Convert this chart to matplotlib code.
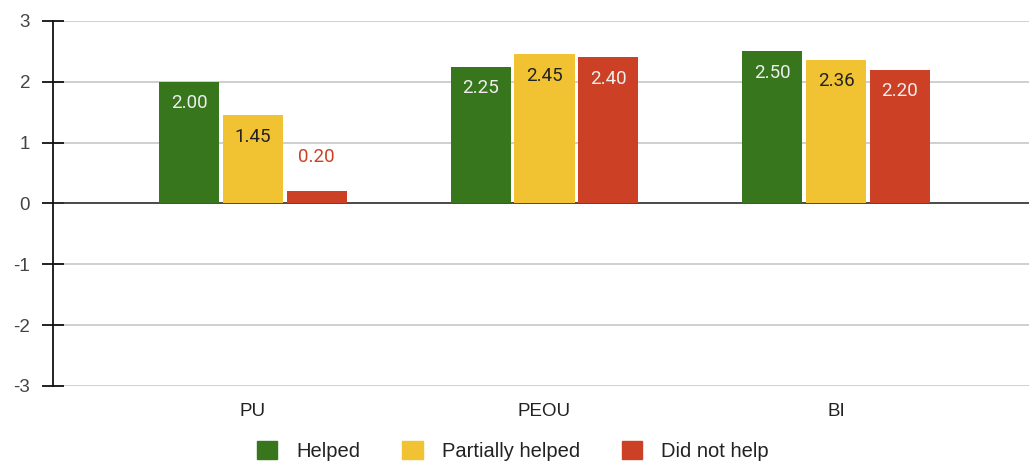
import matplotlib
matplotlib.use("Agg")
import matplotlib.pyplot as plt
import numpy as np

categories = ["PU", "PEOU", "BI"]
series_names = ["Helped", "Partially helped", "Did not help"]
helped = [2.00, 2.25, 2.50]
partially_helped = [1.45, 2.45, 2.36]
did_not_help = [0.20, 2.40, 2.20]
y_ticks = [-3, -2, -1, 0, 1, 2, 3]

colors = ["#38761d", "#f1c232", "#cc4125"]
label_colors = ["#eeeeee", "#222222", "#eeeeee"]

plt.rcParams["font.family"] = ["Liberation Sans", "DejaVu Sans"]

fig = plt.figure(figsize=(10.29, 4.65), dpi=100)
ax = fig.add_axes([53 / 1029, (465 - 386) / 465, 976 / 1029, 365 / 465])

x = np.arange(len(categories))
width = 0.206
step = 0.218
values = [helped, partially_helped, did_not_help]

for i, (vals, col, lcol) in enumerate(zip(values, colors, label_colors)):
    pos = x + (i - 1) * step
    ax.bar(pos, vals, width=width, color=col, zorder=3)
    for xb, v in zip(pos, vals):
        txt = f"{v:.2f}"
        if v >= 0.5:
            ax.text(xb, v - 0.35, txt, ha="center", va="center",
                    color=lcol, fontsize=13.5, family="Roboto", zorder=4)
        else:
            ax.text(xb, v + 0.57, txt, ha="center", va="center",
                    color=col, fontsize=13.5, family="Roboto", zorder=4)

ax.set_xlim(-0.686, 2.662)
ax.set_ylim(-3, 3)
ax.set_yticks(y_ticks)
ax.set_yticklabels([str(t) for t in y_ticks])
ax.set_xticks(x)
ax.set_xticklabels(categories)

ax.grid(axis="y", color="#cccccc", linewidth=1.3, zorder=0)
ax.axhline(0, color="#333333", linewidth=1.2, zorder=2)

for s in ["top", "right", "bottom"]:
    ax.spines[s].set_visible(False)
ax.spines["left"].set_color("#111111")
ax.spines["left"].set_linewidth(1.3)
ax.spines["left"].set_zorder(5)

ax.tick_params(axis="y", direction="inout", length=16, width=1.3,
               colors="#111111", labelcolor="#444444", labelsize=13.5, pad=8.5)
ax.tick_params(axis="x", length=0, labelsize=13.5, labelcolor="#222222", pad=12)

handles = [plt.Rectangle((0, 0), 1, 1, color=c) for c in colors]
fig.legend(handles, series_names, loc="center", bbox_to_anchor=(513 / 1029, 1 - 451 / 465),
           ncol=3, frameon=False, fontsize=14.5, handlelength=1.0, handleheight=1.0,
           handletextpad=0.95, columnspacing=2.1, labelcolor="#222222")

fig.savefig("out.png", dpi=100)
